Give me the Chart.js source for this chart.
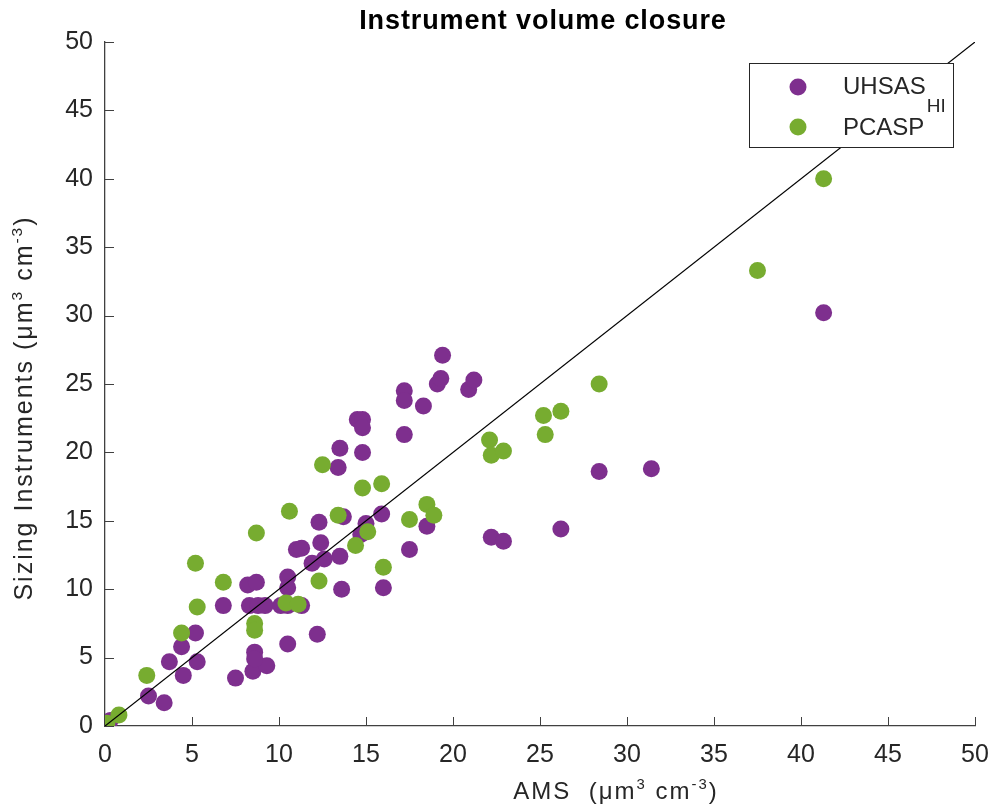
<!DOCTYPE html>
<html>
<head>
<meta charset="utf-8">
<script src="https://cdn.jsdelivr.net/npm/chart.js@4.4.1/dist/chart.umd.min.js"></script>
<style>
  body { margin: 0; background: #fff; }
  canvas { display: block; }
</style>
</head>
<body>
<canvas id="chart" width="994" height="809"></canvas>
<script>
// Instrument volume closure -----------------------------------
// -------------------------------------------------------------

var tickValues = [0, 5, 10, 15, 20, 25, 30, 35, 40, 45, 50];

// UHSAS_HI vs AMS (µm3 cm-3)
var uhsasX = [0.3, 2.5, 3.4, 3.7, 4.4, 4.5, 5.2, 5.3, 6.8, 7.5, 8.2, 8.7, 8.3, 8.8, 9.2,
  10.1, 10.5, 11.3, 8.5, 9.3, 8.6, 8.6, 10.5, 10.5, 10.5, 12.2, 11.0, 11.3, 11.9, 12.3,
  12.4, 12.6, 13.5, 13.6, 13.7, 13.4, 13.5, 14.5, 14.8, 14.8, 14.8, 15.0, 14.7, 15.9,
  16.0, 17.2, 17.2, 17.2, 17.5, 18.3, 18.5, 19.1, 19.3, 19.4, 20.9, 21.2, 22.2, 22.9,
  26.2, 28.4, 31.4, 41.3];
var uhsasY = [0.4, 2.2, 1.7, 4.7, 5.8, 3.7, 6.8, 4.7, 8.8, 3.5, 10.3, 10.5, 8.8, 8.8, 8.8,
  8.8, 8.8, 8.8, 4.0, 4.4, 5.4, 4.9, 10.9, 10.1, 6.0, 6.7, 12.9, 13.0, 11.9, 14.9,
  13.4, 12.2, 12.4, 10.0, 15.3, 18.9, 20.3, 22.4, 22.4, 21.8, 20.0, 14.8, 14.0, 15.5,
  10.1, 24.5, 23.8, 21.3, 12.9, 23.4, 14.6, 25.0, 25.4, 27.1, 24.6, 25.3, 13.8, 13.5,
  14.4, 18.6, 18.8, 30.2];

// PCASP vs AMS
var pcaspX = [0.1, 0.8, 2.4, 4.4, 5.2, 5.3, 6.8, 8.6, 8.6, 8.7, 10.4, 11.1, 10.6, 12.3,
  12.5, 13.4, 14.4, 15.1, 14.8, 15.9, 16.0, 17.5, 18.5, 18.9, 22.1, 22.2, 22.9, 25.2,
  26.2, 25.3, 28.4, 37.5, 41.3];
var pcaspY = [0.2, 0.8, 3.7, 6.8, 11.9, 8.7, 10.5, 7.5, 7.0, 14.1, 9.0, 8.9, 15.7, 10.6,
  19.1, 15.4, 13.2, 14.2, 17.4, 17.7, 11.6, 15.1, 16.2, 15.4, 20.9, 19.8, 20.1, 22.7,
  23.0, 21.3, 25.0, 33.3, 40.0];

// 1:1 line
var lineX = [0, 50];
var lineY = [0, 50];

var purple = '#7E2F8E';
var green = '#77AC30';
var axisGrey = '#404040';
var textGrey = '#262626';
var FONT = "'Liberation Sans', Arial, Helvetica, sans-serif";

function toPoints(xs, ys) {
  return xs.map(function (x, i) { return { x: x, y: ys[i] }; });
}

// texte avec exposants / indices
function drawRich(ctx, parts, cx, baseline, size, spacing) {
  ctx.letterSpacing = spacing + 'px';
  var total = 0;
  parts.forEach(function (p) {
    var s = p.sup ? size * 0.62 : size;
    ctx.font = s + 'px ' + FONT;
    p.w = ctx.measureText(p.t).width;
    total += p.w;
  });
  var x = cx - total / 2;
  ctx.textAlign = 'left';
  ctx.textBaseline = 'alphabetic';
  parts.forEach(function (p) {
    var s = p.sup ? size * 0.62 : size;
    ctx.font = s + 'px ' + FONT;
    ctx.fillText(p.t, x, p.sup ? baseline - size * 0.42 : baseline);
    x += p.w;
  });
  ctx.letterSpacing = '0px';
}

var decorations = {
  id: 'decorations',
  beforeDatasetsDraw: function (chart) {
    var ctx = chart.ctx, xs = chart.scales.x, ys = chart.scales.y, a = chart.chartArea;
    ctx.save();
    ctx.strokeStyle = axisGrey;
    ctx.lineWidth = 1;
    xs.ticks.forEach(function (t) {
      var px = Math.round(xs.getPixelForValue(t.value)) + 0.5;
      ctx.beginPath(); ctx.moveTo(px, a.bottom); ctx.lineTo(px, a.bottom - 9); ctx.stroke();
    });
    ys.ticks.forEach(function (t) {
      var py = Math.round(ys.getPixelForValue(t.value)) + 0.5;
      ctx.beginPath(); ctx.moveTo(a.left, py); ctx.lineTo(a.left + 9, py); ctx.stroke();
    });
    ctx.restore();
  },
  afterDraw: function (chart) {
    var ctx = chart.ctx;
    ctx.save();
    ctx.fillStyle = '#000';
    // titre
    ctx.letterSpacing = '0.9px';
    ctx.font = 'bold 27px ' + FONT;
    ctx.textAlign = 'center';
    ctx.textBaseline = 'alphabetic';
    ctx.fillText('Instrument volume closure', 543, 29);
    ctx.letterSpacing = '0px';

    // titres des axes
    ctx.fillStyle = textGrey;
    drawRich(ctx, [{ t: 'AMS  (\u03bcm' }, { t: '3', sup: true }, { t: ' cm' }, { t: '-3', sup: true }, { t: ')' }],
      616, 799, 24, 2);
    ctx.save();
    ctx.translate(32, 408);
    ctx.rotate(-Math.PI / 2);
    drawRich(ctx, [{ t: 'Sizing Instruments (\u03bcm' }, { t: '3', sup: true }, { t: ' cm' }, { t: '-3', sup: true }, { t: ')' }],
      0, 0, 25, 2);
    ctx.restore();

    // légende
    ctx.fillStyle = '#fff';
    ctx.fillRect(749.5, 63.5, 204, 84);
    ctx.strokeStyle = textGrey;
    ctx.lineWidth = 1;
    ctx.strokeRect(749.5, 63.5, 204, 84);
    ctx.fillStyle = purple;
    ctx.beginPath(); ctx.arc(798, 87, 8.5, 0, Math.PI * 2); ctx.fill();
    ctx.fillStyle = green;
    ctx.beginPath(); ctx.arc(798, 127, 8.5, 0, Math.PI * 2); ctx.fill();
    ctx.fillStyle = textGrey;
    ctx.textAlign = 'left';
    ctx.font = '24px ' + FONT;
    ctx.fillText('UHSAS', 843, 94);
    var w = ctx.measureText('UHSAS').width;
    ctx.font = '19px ' + FONT;
    ctx.fillText('HI', 843 + w + 1, 112);
    ctx.font = '24px ' + FONT;
    ctx.fillText('PCASP', 843, 135);
    ctx.restore();
  }
};

var ctx = document.getElementById('chart').getContext('2d');

var myChart = new Chart(ctx, {
  type: 'scatter',
  data: {
    datasets: [{
      label: 'UHSAS_HI',
      data: toPoints(uhsasX, uhsasY),
      backgroundColor: purple,
      borderWidth: 0,
      pointRadius: 8.5,
      pointHoverRadius: 8.5,
      order: 3
    }, {
      label: 'PCASP',
      data: toPoints(pcaspX, pcaspY),
      backgroundColor: green,
      borderWidth: 0,
      pointRadius: 8.5,
      pointHoverRadius: 8.5,
      order: 2
    }, {
      label: '1:1',
      data: toPoints(lineX, lineY),
      showLine: true,
      borderColor: '#000',
      borderWidth: 1.2,
      pointRadius: 0,
      order: 1
    }]
  },
  options: {
    responsive: false,
    animation: false,
    layout: { padding: { top: 42, right: 19, left: 0, bottom: 0 } },
    plugins: {
      legend: { display: false },
      title: { display: false },
      tooltip: { enabled: false }
    },
    scales: {
      x: {
        type: 'linear', min: 0, max: 50,
        afterBuildTicks: function (s) { s.ticks = tickValues.map(function (v) { return { value: v }; }); },
        afterFit: function (s) { s.height = 83; s.paddingLeft = 0; s.paddingRight = 0; },
        ticks: { color: textGrey, font: { size: 25, family: FONT }, padding: 14, maxRotation: 0 },
        grid: { display: false, drawTicks: false },
        border: { display: true, color: axisGrey, width: 1.3 }
      },
      y: {
        type: 'linear', min: 0, max: 50,
        afterBuildTicks: function (s) { s.ticks = tickValues.map(function (v) { return { value: v }; }); },
        afterFit: function (s) { s.width = 105; s.paddingTop = 0; s.paddingBottom = 0; },
        ticks: { color: textGrey, font: { size: 25, family: FONT }, padding: 12 },
        grid: { display: false, drawTicks: false },
        border: { display: true, color: axisGrey, width: 1.3 }
      }
    }
  },
  plugins: [decorations]
});
</script>
</body>
</html>
